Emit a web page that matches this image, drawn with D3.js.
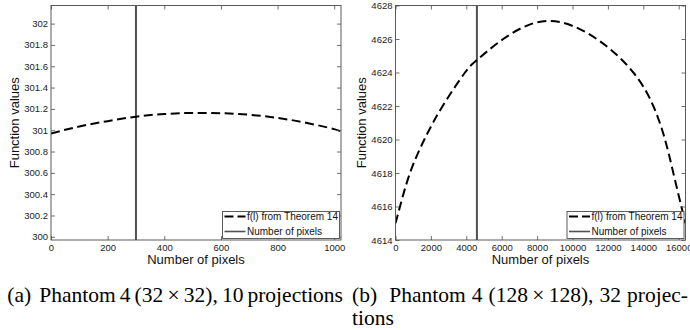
<!DOCTYPE html>
<html>
<head>
<meta charset="utf-8">
<script src="https://cdn.jsdelivr.net/npm/d3@7"></script>
<style>
  body { margin: 0; background: #fff; }
  svg { display: block; }
</style>
</head>
<body>
<svg id="fig" width="690" height="330"></svg>
<script>
// ---- Panel (a): Phantom 4, 32x32, 10 projections ----
const aPixels = [0, 100, 200, 300, 400, 500, 600, 700, 800, 900, 1000, 1024];
const aValues = [300.97, 301.035, 301.085, 301.127, 301.152, 301.162, 301.160, 301.145, 301.115, 301.07, 301.01, 300.985];
const aPixelCount = 300;
const aXDomain = [0, 1024];
const aYDomain = [299.97, 302.17];
const aXTicks = [0, 200, 400, 600, 800, 1000];
const aYTicks = [300, 300.2, 300.4, 300.6, 300.8, 301, 301.2, 301.4, 301.6, 301.8, 302];

// ---- Panel (b): Phantom 4, 128x128, 32 projections ----
const bPixels = [0, 254, 819, 1630, 2665, 3926, 4600, 6090, 8600, 11367, 13437, 14566, 15226, 15697, 16150, 16384];
const bValues = [4615.0, 4616, 4618, 4620, 4622, 4624, 4624.74, 4626, 4627.08, 4626, 4624, 4622, 4620, 4618, 4616, 4615.0];
const bPixelCount = 4600;
const bXDomain = [0, 16384];
const bYDomain = [4614, 4628];
const bXTicks = [0, 2000, 4000, 6000, 8000, 10000, 12000, 14000, 16000];
const bYTicks = [4614, 4616, 4618, 4620, 4622, 4624, 4626, 4628];

// ---- Shared text ----
const legendLabels = ["f(l) from Theorem 14", "Number of pixels"];
const xTitle = "Number of pixels";
const yTitle = "Function values";
const captionA = ["(a)", "Phantom", "4", "(32\u2009\u00d7\u200932),", "10", "projections"];
const captionB1 = ["(b)", "Phantom", "4", "(128\u2009\u00d7\u2009128),", "32", "projec-"];
const captionB2 = ["tions"];

const SANS = "'Liberation Sans', Arial, Helvetica, sans-serif";
const SERIF = "'Liberation Serif', 'Times New Roman', serif";
const FRAME = "#4a4a4a";

const svg = d3.select("#fig");

function drawPanel(id, cfg) {
  const g = svg.append("g").attr("class", "panel-" + id);
  const x = d3.scaleLinear().domain(cfg.xDomain).range([cfg.left, cfg.right]);
  const y = d3.scaleLinear().domain(cfg.yDomain).range([cfg.bottom, cfg.top]);

  g.append("defs").append("clipPath").attr("id", "clip-" + id)
    .append("rect")
    .attr("x", cfg.left).attr("y", cfg.top)
    .attr("width", cfg.right - cfg.left).attr("height", cfg.bottom - cfg.top);

  g.append("rect")
    .attr("x", cfg.left).attr("y", cfg.top)
    .attr("width", cfg.right - cfg.left).attr("height", cfg.bottom - cfg.top)
    .attr("fill", "#fff");

  const plot = g.append("g").attr("clip-path", `url(#clip-${id})`);

  // vertical marker: number of pixels in the image
  plot.append("line")
    .attr("x1", x(cfg.pixelCount)).attr("x2", x(cfg.pixelCount))
    .attr("y1", cfg.top).attr("y2", cfg.bottom)
    .attr("stroke", "#505050").attr("stroke-width", 2);

  // dashed f(l) curve
  const line = d3.line()
    .x((d, i) => x(cfg.pixels[i]))
    .y(d => y(d))
    .curve(d3.curveNatural);
  plot.append("path")
    .datum(cfg.values)
    .attr("d", line)
    .attr("fill", "none")
    .attr("stroke", "#000")
    .attr("stroke-width", 2)
    .attr("stroke-dasharray", "9,4.5");

  // axes with inward ticks on all four sides
  const fmt = d3.format("~f");
  const styleAxis = sel => {
    sel.select(".domain").remove();
    sel.selectAll(".tick line").attr("stroke", FRAME).attr("stroke-width", 0.8);
    sel.selectAll("text")
      .attr("font-family", SANS).attr("font-size", 9.5).attr("fill", "#222");
  };
  g.append("g").attr("transform", `translate(0,${cfg.bottom})`)
    .call(d3.axisBottom(x).tickValues(cfg.xTicks).tickSize(-4).tickPadding(4.6).tickFormat(fmt))
    .call(styleAxis);
  g.append("g").attr("transform", `translate(0,${cfg.top})`)
    .call(d3.axisTop(x).tickValues(cfg.xTicks).tickSize(-4).tickFormat(""))
    .call(styleAxis);
  g.append("g").attr("transform", `translate(${cfg.left},0)`)
    .call(d3.axisLeft(y).tickValues(cfg.yTicks).tickSize(-4).tickPadding(3).tickFormat(fmt))
    .call(styleAxis);
  g.append("g").attr("transform", `translate(${cfg.right},0)`)
    .call(d3.axisRight(y).tickValues(cfg.yTicks).tickSize(-4).tickFormat(""))
    .call(styleAxis);

  // frame
  g.append("rect")
    .attr("x", cfg.left).attr("y", cfg.top)
    .attr("width", cfg.right - cfg.left).attr("height", cfg.bottom - cfg.top)
    .attr("fill", "none").attr("stroke", FRAME).attr("stroke-width", 0.9);

  // axis titles
  g.append("text")
    .attr("x", (cfg.left + cfg.right) / 2).attr("y", 264)
    .attr("text-anchor", "middle")
    .attr("font-family", SANS).attr("font-size", 13).attr("fill", "#111")
    .text(xTitle);
  g.append("text")
    .attr("transform", `translate(${cfg.yTitleX},${(cfg.top + cfg.bottom) / 2}) rotate(-90)`)
    .attr("text-anchor", "middle")
    .attr("font-family", SANS).attr("font-size", 13).attr("fill", "#111")
    .text(yTitle);

  // legend
  const lx = cfg.right - 118.5, ly = 211.5;
  const lg = g.append("g");
  lg.append("rect")
    .attr("x", lx).attr("y", ly).attr("width", 117).attr("height", 27)
    .attr("fill", "#fff").attr("stroke", FRAME).attr("stroke-width", 0.9);
  const rows = [
    { label: legendLabels[0], dash: "9,4", color: "#000", width: 2 },
    { label: legendLabels[1], dash: null, color: "#505050", width: 1.6 }
  ];
  rows.forEach((r, i) => {
    const cy = ly + 5 + i * 15;
    lg.append("line")
      .attr("x1", lx + 2).attr("x2", lx + 23)
      .attr("y1", cy).attr("y2", cy)
      .attr("stroke", r.color).attr("stroke-width", r.width)
      .attr("stroke-dasharray", r.dash);
    lg.append("text")
      .attr("x", lx + 24.5).attr("y", cy + 3.6)
      .attr("font-family", SANS).attr("font-size", 10).attr("fill", "#111")
      .text(r.label);
  });
}

drawPanel("a", {
  left: 51, right: 341, top: 5.5, bottom: 240, yTitleX: 19,
  xDomain: aXDomain, yDomain: aYDomain, xTicks: aXTicks, yTicks: aYTicks,
  pixels: aPixels, values: aValues, pixelCount: aPixelCount
});
drawPanel("b", {
  left: 395.5, right: 685.5, top: 5.5, bottom: 240, yTitleX: 366,
  xDomain: bXDomain, yDomain: bYDomain, xTicks: bXTicks, yTicks: bYTicks,
  pixels: bPixels, values: bValues, pixelCount: bPixelCount
});

// ---- Sub-figure captions, justified word by word ----
const CAP_SIZE = 21.5;
function captionLine(words, x0, x1, baseline, justify) {
  const g = svg.append("g")
    .attr("font-family", SERIF).attr("font-size", CAP_SIZE).attr("fill", "#000");
  const nodes = words.map(w => g.append("text").attr("y", baseline).text(w));
  const widths = nodes.map(n => n.node().getComputedTextLength());
  const total = d3.sum(widths);
  const weights = words.map((w, i) => (i === 0 ? 0 : i === 1 ? 2 : 1));
  const unit = justify ? (x1 - x0 - total) / d3.sum(weights) : CAP_SIZE * 0.25;
  let cx = x0;
  nodes.forEach((n, i) => {
    cx += weights[i] * unit;
    n.attr("x", cx);
    cx += widths[i];
  });
}
captionLine(captionA, 7.3, 343, 301.5, true);
captionLine(captionB1, 352, 688, 301.5, true);
captionLine(captionB2, 352, 688, 325, false);
</script>
</body>
</html>
